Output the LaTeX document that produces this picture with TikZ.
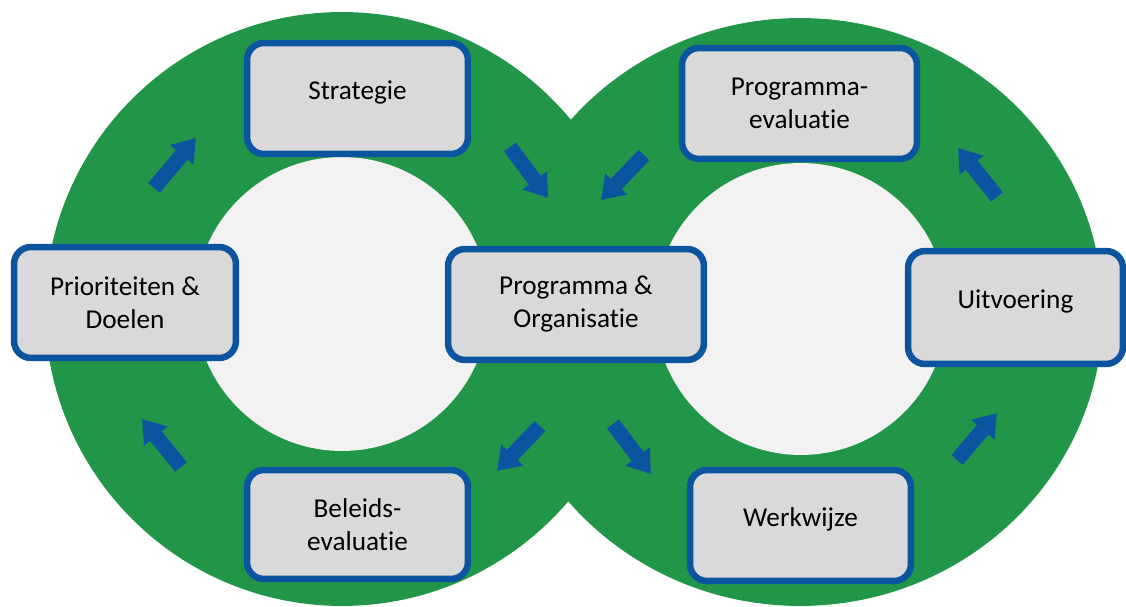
\documentclass[tikz,border=0pt]{standalone}
\usepackage{fontspec}
\setmainfont{Carlito}[Ligatures=NoCommon]
\usepackage{tikz}
\usetikzlibrary{arrows.meta}
\definecolor{loopgreen}{RGB}{34,150,72}
\definecolor{boxblue}{RGB}{11,85,160}
\definecolor{boxgray}{RGB}{217,217,217}
\definecolor{holegray}{RGB}{242,242,242}
\tikzset{
    boxnode/.style = {draw=boxblue, fill=boxgray, rectangle, rounded corners=0.34cm, line width=0.13cm,
      minimum width=4.42cm, minimum height=2.22cm, inner sep=0em, align=center,
      font=\fontsize{15.5}{18.8}\selectfont},
    onelinenode/.style = {boxnode, text depth=0.32cm},
    flow/.style = {boxblue, line width=0.3cm, -{Triangle[length=0.44cm, width=0.58cm]}}
}

\begin{document}
\begin{tikzpicture}[x=0.02cm, y=-0.02cm]
\useasboundingbox (0,0) rectangle (1126,607);
\clip (0,0) rectangle (1126,607);

% the two loops
\fill [loopgreen] (342,309) circle [radius=5.94cm];
\fill [loopgreen] (800,312) ellipse [x radius=6.06cm, y radius=5.88cm];
\fill [holegray] (342,304) circle [radius=2.94cm];
\fill [holegray] (801,309) circle [radius=2.92cm];

% arrow ends
\coordinate (prio-strat-s) at (154,188);  \coordinate (prio-strat-e) at (196,138);
\coordinate (strat-prog-s) at (510,147);  \coordinate (strat-prog-e) at (548,198);
\coordinate (peval-prog-s) at (644,155);  \coordinate (peval-prog-e) at (601,200);
\coordinate (uitv-peval-s) at (997,197);  \coordinate (uitv-peval-e) at (958,148);
\coordinate (werk-uitv-s) at (957,460);   \coordinate (werk-uitv-e) at (997,413);
\coordinate (prog-werk-s) at (613,424);   \coordinate (prog-werk-e) at (651,474);
\coordinate (prog-beleid-s) at (540,426); \coordinate (prog-beleid-e) at (497,471);
\coordinate (beleid-prio-s) at (181,467); \coordinate (beleid-prio-e) at (142,419);

\foreach \a in {prio-strat, strat-prog, peval-prog, uitv-peval, werk-uitv, prog-werk, prog-beleid, beleid-prio}
  \draw [flow] (\a-s) -- (\a-e);

% boxes
\node [onelinenode, name=strat] at (357.5,98.5) {Strategie};
\node [boxnode, name=prio, minimum width=4.44cm] at (125,302.5) {Prioriteiten \&\\Doelen};
\node [boxnode, name=prog, minimum width=5.12cm] at (576,304.5) {Programma \&\\Organisatie};
\node [boxnode, name=peval, minimum width=4.7cm] at (799.5,103.5) {Programma-\\evaluatie};
\node [onelinenode, name=uitv, minimum width=4.3cm, minimum height=2.26cm] at (1015.5,307.5) {Uitvoering};
\node [boxnode, name=beleid, minimum height=2.18cm] at (357.5,524.5) {Beleids-\\evaluatie};
\node [onelinenode, name=werk] at (800.5,525.5) {Werkwijze};
\end{tikzpicture}
\end{document}
